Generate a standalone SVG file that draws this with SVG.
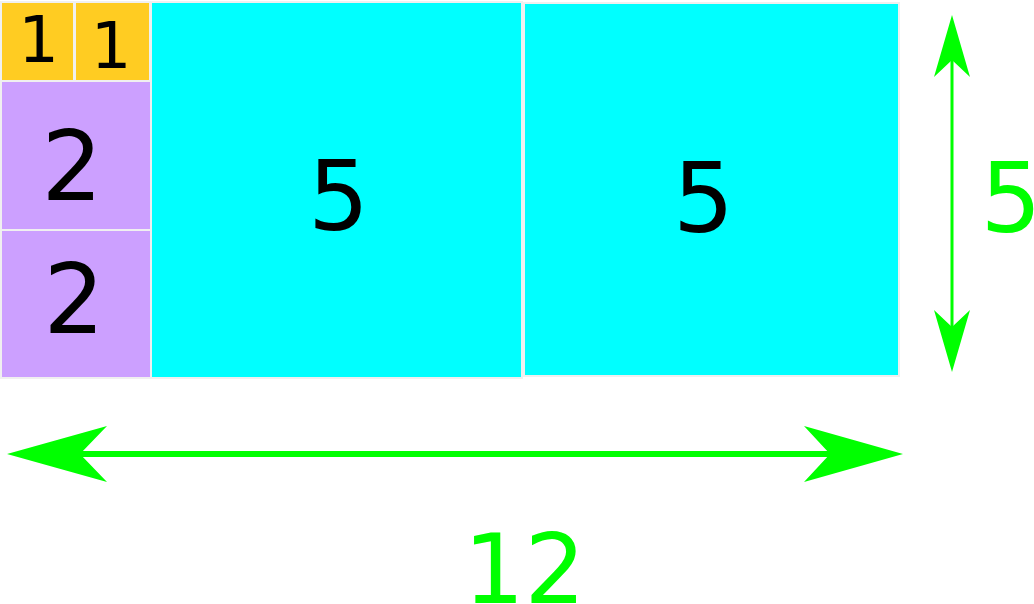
<svg xmlns="http://www.w3.org/2000/svg" width="1034" height="604" viewBox="0 0 1034 604">
<style>
.box{stroke:#f0f0f0;stroke-width:2}
.y{fill:#ffcc22}
.p{fill:#cca0ff}
.c{fill:#00ffff}
text{font-family:"DejaVu Sans","Liberation Sans",sans-serif;text-anchor:middle}
.k{fill:#000}
.g{fill:#00ff00}
.ln{stroke:#00ff00;fill:none}
.hd{fill:#00ff00;stroke:none}
</style>
<rect width="1034" height="604" fill="#fff"/>
<g id="n1a"><rect class="box y" x="1" y="2" width="73" height="79"/><text class="k" x="38.5" y="62" font-size="64">1</text></g>
<g id="n1b"><rect class="box y" x="75" y="2" width="75" height="79"/><text class="k" x="111" y="68" font-size="64">1</text></g>
<g id="n2a"><rect class="box p" x="1" y="81" width="150" height="149"/><text class="k" x="72" y="200" font-size="96">2</text></g>
<g id="n2b"><rect class="box p" x="1" y="230" width="150" height="148"/><text class="k" x="74" y="333" font-size="96">2</text></g>
<g id="n5a"><rect class="box c" x="151" y="2" width="371" height="376"/><text class="k" x="338.5" y="229.5" font-size="96">5</text></g>
<g id="n5b"><rect class="box c" x="524" y="3" width="375" height="373"/><text class="k" x="703.5" y="231.5" font-size="96">5</text></g>
<g id="connectors">
<line class="ln" x1="80" y1="454" x2="830" y2="454" stroke-width="6"/>
<polygon class="hd" points="7,454 107,426 80,454 107,482"/>
<polygon class="hd" points="903,454 804,426 830,454 804,482"/>
<line class="ln" x1="952" y1="60" x2="952" y2="327" stroke-width="3"/>
<polygon class="hd" points="952,15 970,77 952,60 934,77"/>
<polygon class="hd" points="952,372 934,310 952,327 970,310"/>
</g>
<g id="labels">
<text class="g" x="1011" y="231.5" font-size="96">5</text>
<text class="g" x="524.5" y="603" font-size="96">12</text>
</g>
</svg>
